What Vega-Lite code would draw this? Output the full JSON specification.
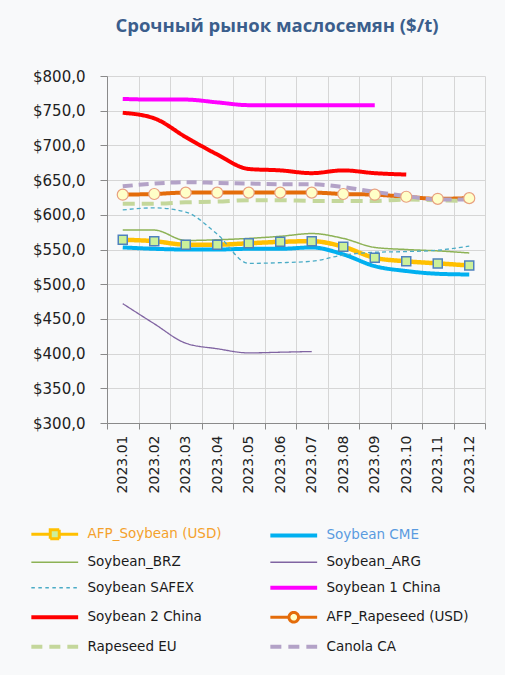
{
  "$schema": "https://vega.github.io/schema/vega-lite/v6.json",
  "width": 378,
  "height": 347,
  "autosize": "none",
  "padding": {"left": 107, "top": 76, "right": 20, "bottom": 252},
  "background": "#f8f9fa",
  "title": {"text": "Срочный рынок маслосемян ($/t)", "font": "Open Sans", "fontSize": 18.5, "fontWeight": "bold", "color": "#3b5e8c", "anchor": "middle", "dx": -19, "offset": 34},
  "config": {
    "view": {"stroke": null},
    "axis": {"labelFont": "DejaVu Sans", "labelFontSize": 14, "labelColor": "#222222", "gridColor": "#d6d6d6", "gridWidth": 1, "domainColor": "#8a8a8a", "tickColor": "#8a8a8a", "title": null}
  },
  "datasets": {
    "d": [
      {"month": "2023.01", "series": "AFP_Soybean (USD)", "value": 564},
      {"month": "2023.02", "series": "AFP_Soybean (USD)", "value": 562},
      {"month": "2023.03", "series": "AFP_Soybean (USD)", "value": 557},
      {"month": "2023.04", "series": "AFP_Soybean (USD)", "value": 557},
      {"month": "2023.05", "series": "AFP_Soybean (USD)", "value": 559},
      {"month": "2023.06", "series": "AFP_Soybean (USD)", "value": 561},
      {"month": "2023.07", "series": "AFP_Soybean (USD)", "value": 562},
      {"month": "2023.08", "series": "AFP_Soybean (USD)", "value": 554},
      {"month": "2023.09", "series": "AFP_Soybean (USD)", "value": 538},
      {"month": "2023.10", "series": "AFP_Soybean (USD)", "value": 533},
      {"month": "2023.11", "series": "AFP_Soybean (USD)", "value": 530},
      {"month": "2023.12", "series": "AFP_Soybean (USD)", "value": 527},
      {"month": "2023.01", "series": "Soybean CME", "value": 553},
      {"month": "2023.02", "series": "Soybean CME", "value": 551},
      {"month": "2023.03", "series": "Soybean CME", "value": 550},
      {"month": "2023.04", "series": "Soybean CME", "value": 550},
      {"month": "2023.05", "series": "Soybean CME", "value": 551},
      {"month": "2023.06", "series": "Soybean CME", "value": 551},
      {"month": "2023.07", "series": "Soybean CME", "value": 553},
      {"month": "2023.08", "series": "Soybean CME", "value": 543},
      {"month": "2023.09", "series": "Soybean CME", "value": 526},
      {"month": "2023.10", "series": "Soybean CME", "value": 519},
      {"month": "2023.11", "series": "Soybean CME", "value": 515},
      {"month": "2023.12", "series": "Soybean CME", "value": 514},
      {"month": "2023.01", "series": "Soybean_BRZ", "value": 578},
      {"month": "2023.02", "series": "Soybean_BRZ", "value": 578},
      {"month": "2023.03", "series": "Soybean_BRZ", "value": 563},
      {"month": "2023.04", "series": "Soybean_BRZ", "value": 564},
      {"month": "2023.05", "series": "Soybean_BRZ", "value": 566},
      {"month": "2023.06", "series": "Soybean_BRZ", "value": 569},
      {"month": "2023.07", "series": "Soybean_BRZ", "value": 573},
      {"month": "2023.08", "series": "Soybean_BRZ", "value": 566},
      {"month": "2023.09", "series": "Soybean_BRZ", "value": 553},
      {"month": "2023.10", "series": "Soybean_BRZ", "value": 550},
      {"month": "2023.11", "series": "Soybean_BRZ", "value": 548},
      {"month": "2023.12", "series": "Soybean_BRZ", "value": 545},
      {"month": "2023.01", "series": "Soybean_ARG", "value": 472},
      {"month": "2023.02", "series": "Soybean_ARG", "value": 443},
      {"month": "2023.03", "series": "Soybean_ARG", "value": 415},
      {"month": "2023.04", "series": "Soybean_ARG", "value": 407},
      {"month": "2023.05", "series": "Soybean_ARG", "value": 401},
      {"month": "2023.06", "series": "Soybean_ARG", "value": 402},
      {"month": "2023.07", "series": "Soybean_ARG", "value": 403},
      {"month": "2023.01", "series": "Soybean SAFEX", "value": 607},
      {"month": "2023.02", "series": "Soybean SAFEX", "value": 610},
      {"month": "2023.03", "series": "Soybean SAFEX", "value": 604},
      {"month": "2023.04", "series": "Soybean SAFEX", "value": 572},
      {"month": "2023.05", "series": "Soybean SAFEX", "value": 530},
      {"month": "2023.06", "series": "Soybean SAFEX", "value": 531},
      {"month": "2023.07", "series": "Soybean SAFEX", "value": 533},
      {"month": "2023.08", "series": "Soybean SAFEX", "value": 542},
      {"month": "2023.09", "series": "Soybean SAFEX", "value": 546},
      {"month": "2023.10", "series": "Soybean SAFEX", "value": 547},
      {"month": "2023.11", "series": "Soybean SAFEX", "value": 549},
      {"month": "2023.12", "series": "Soybean SAFEX", "value": 555},
      {"month": "2023.01", "series": "Soybean 1  China", "value": 767},
      {"month": "2023.02", "series": "Soybean 1  China", "value": 766},
      {"month": "2023.03", "series": "Soybean 1  China", "value": 766},
      {"month": "2023.04", "series": "Soybean 1  China", "value": 762},
      {"month": "2023.05", "series": "Soybean 1  China", "value": 758},
      {"month": "2023.06", "series": "Soybean 1  China", "value": 758},
      {"month": "2023.07", "series": "Soybean 1  China", "value": 758},
      {"month": "2023.08", "series": "Soybean 1  China", "value": 758},
      {"month": "2023.09", "series": "Soybean 1  China", "value": 758},
      {"month": "2023.01", "series": "Soybean 2  China", "value": 747},
      {"month": "2023.02", "series": "Soybean 2  China", "value": 739},
      {"month": "2023.03", "series": "Soybean 2  China", "value": 712},
      {"month": "2023.04", "series": "Soybean 2  China", "value": 687},
      {"month": "2023.05", "series": "Soybean 2  China", "value": 666},
      {"month": "2023.06", "series": "Soybean 2  China", "value": 664},
      {"month": "2023.07", "series": "Soybean 2  China", "value": 660},
      {"month": "2023.08", "series": "Soybean 2  China", "value": 664},
      {"month": "2023.09", "series": "Soybean 2  China", "value": 660},
      {"month": "2023.10", "series": "Soybean 2  China", "value": 658},
      {"month": "2023.01", "series": "AFP_Rapeseed (USD)", "value": 629},
      {"month": "2023.02", "series": "AFP_Rapeseed (USD)", "value": 630},
      {"month": "2023.03", "series": "AFP_Rapeseed (USD)", "value": 632},
      {"month": "2023.04", "series": "AFP_Rapeseed (USD)", "value": 632},
      {"month": "2023.05", "series": "AFP_Rapeseed (USD)", "value": 632},
      {"month": "2023.06", "series": "AFP_Rapeseed (USD)", "value": 632},
      {"month": "2023.07", "series": "AFP_Rapeseed (USD)", "value": 632},
      {"month": "2023.08", "series": "AFP_Rapeseed (USD)", "value": 630},
      {"month": "2023.09", "series": "AFP_Rapeseed (USD)", "value": 629},
      {"month": "2023.10", "series": "AFP_Rapeseed (USD)", "value": 626},
      {"month": "2023.11", "series": "AFP_Rapeseed (USD)", "value": 623},
      {"month": "2023.12", "series": "AFP_Rapeseed (USD)", "value": 624},
      {"month": "2023.01", "series": "Rapeseed EU", "value": 616},
      {"month": "2023.02", "series": "Rapeseed EU", "value": 616},
      {"month": "2023.03", "series": "Rapeseed EU", "value": 618},
      {"month": "2023.04", "series": "Rapeseed EU", "value": 619},
      {"month": "2023.05", "series": "Rapeseed EU", "value": 621},
      {"month": "2023.06", "series": "Rapeseed EU", "value": 621},
      {"month": "2023.07", "series": "Rapeseed EU", "value": 620},
      {"month": "2023.08", "series": "Rapeseed EU", "value": 620},
      {"month": "2023.09", "series": "Rapeseed EU", "value": 620},
      {"month": "2023.10", "series": "Rapeseed EU", "value": 622},
      {"month": "2023.11", "series": "Rapeseed EU", "value": 621},
      {"month": "2023.12", "series": "Rapeseed EU", "value": 620},
      {"month": "2023.01", "series": "Canola CA", "value": 641},
      {"month": "2023.02", "series": "Canola CA", "value": 645},
      {"month": "2023.03", "series": "Canola CA", "value": 647},
      {"month": "2023.04", "series": "Canola CA", "value": 646},
      {"month": "2023.05", "series": "Canola CA", "value": 645},
      {"month": "2023.06", "series": "Canola CA", "value": 644},
      {"month": "2023.07", "series": "Canola CA", "value": 644},
      {"month": "2023.08", "series": "Canola CA", "value": 640},
      {"month": "2023.09", "series": "Canola CA", "value": 633},
      {"month": "2023.10", "series": "Canola CA", "value": 627},
      {"month": "2023.11", "series": "Canola CA", "value": 622},
      {"month": "2023.12", "series": "Canola CA", "value": 622}
    ]
  },
  "data": {"name": "d"},
  "encoding": {
    "x": {"field": "month", "type": "ordinal", "bandPosition": 0.5,
      "scale": {"type": "band", "paddingInner": 0, "paddingOuter": 0},
      "axis": {"labelAngle": -90, "labelPadding": 6, "tickSize": 6, "tickBand": "extent", "grid": true}},
    "y": {"field": "value", "type": "quantitative",
      "scale": {"domain": [300, 800], "nice": false, "zero": false},
      "axis": {"values": [300, 350, 400, 450, 500, 550, 600, 650, 700, 750, 800], "tickSize": 7, "labelPadding": 15, "labelFontSize": 15, "grid": true,
        "labelExpr": "'$' + replace(format(datum.value, '.1f'), '.', ',')"}}
  },
  "layer": [
    {
      "mark": {"type": "line", "interpolate": "monotone"},
      "encoding": {
        "color": {"field": "series", "type": "nominal",
          "scale": {
            "domain": ["AFP_Soybean (USD)", "Soybean_BRZ", "Soybean SAFEX", "Soybean 2  China", "Rapeseed EU", "Soybean CME", "Soybean_ARG", "Soybean 1  China", "AFP_Rapeseed (USD)", "Canola CA"],
            "range": ["#ffc000", "#8db255", "#4bacc6", "#ff0000", "#c4d79b", "#00b0f0", "#8064a2", "#ff00ff", "#e46c0a", "#b3a2c7"]},
          "legend": {
            "orient": "none", "legendX": -59, "legendY": 451, "columns": 2, "title": null,
            "symbolType": "M-3.9,0H3.9", "symbolSize": 144, "symbolStrokeWidth": 4,
            "labelFont": "DejaVu Sans", "labelFontSize": 13.5, "labelColor": "#1a1a1a", "labelLimit": 300,
            "labelOffset": 26, "rowPadding": 9.5, "columnPadding": 40,
            "encode": {
              "symbols": {"update": {
                "shape": {"signal": "datum.value === 'AFP_Soybean (USD)' ? 'M-3.9,0H-0.75M0.75,0H3.9M-0.75,-0.75H0.75V0.75H-0.75Z' : datum.value === 'AFP_Rapeseed (USD)' ? 'M-3.9,0H-0.8M0.8,0H3.9M0.8,0A0.8,0.8,0,1,1,-0.8,0A0.8,0.8,0,1,1,0.8,0Z' : 'M-3.9,0H3.9'"},
                "strokeWidth": {"signal": "(datum.value === 'Soybean_BRZ' || datum.value === 'Soybean_ARG' || datum.value === 'Soybean SAFEX') ? 1.3 : (datum.value === 'AFP_Soybean (USD)' || datum.value === 'AFP_Rapeseed (USD)') ? 3 : 4"},
                "strokeDash": {"signal": "datum.value === 'Soybean SAFEX' ? [3.5, 3.5] : (datum.value === 'Rapeseed EU' || datum.value === 'Canola CA') ? [11, 7] : [1, 0]"},
                "fill": {"signal": "datum.value === 'AFP_Soybean (USD)' ? '#ccf09a' : datum.value === 'AFP_Rapeseed (USD)' ? '#ffffc8' : 'transparent'"}
              }},
              "labels": {"update": {
                "fill": {"signal": "datum.value === 'AFP_Soybean (USD)' ? '#f4a12c' : datum.value === 'Soybean CME' ? '#5a9be0' : '#1a1a1a'"}
              }}
            }
          }},
        "strokeWidth": {"field": "series", "type": "nominal", "legend": null,
          "scale": {"type": "ordinal",
            "domain": ["AFP_Soybean (USD)", "Soybean CME", "Soybean_BRZ", "Soybean_ARG", "Soybean SAFEX", "Soybean 1  China", "Soybean 2  China", "AFP_Rapeseed (USD)", "Rapeseed EU", "Canola CA"],
            "range": [4.5, 4, 1.5, 1.3, 1.3, 4, 4, 4, 4, 4]}},
        "strokeDash": {"field": "series", "type": "nominal", "legend": null,
          "scale": {
            "domain": ["AFP_Soybean (USD)", "Soybean CME", "Soybean_BRZ", "Soybean_ARG", "Soybean SAFEX", "Soybean 1  China", "Soybean 2  China", "AFP_Rapeseed (USD)", "Rapeseed EU", "Canola CA"],
            "range": [[1, 0], [1, 0], [1, 0], [1, 0], [4, 3], [1, 0], [1, 0], [1, 0], [12, 7], [10, 6]]}}
      }
    },
    {
      "transform": [{"filter": "datum.series === 'AFP_Soybean (USD)'"}],
      "mark": {"type": "point", "shape": "square", "filled": true, "fill": "#ccf09a", "stroke": "#4f81bd", "strokeWidth": 1.5, "size": 81, "opacity": 1}
    },
    {
      "transform": [{"filter": "datum.series === 'AFP_Rapeseed (USD)'"}],
      "mark": {"type": "point", "shape": "circle", "filled": true, "fill": "#ffffc8", "stroke": "#e8a080", "strokeWidth": 1.2, "size": 121, "opacity": 1}
    }
  ]
}
